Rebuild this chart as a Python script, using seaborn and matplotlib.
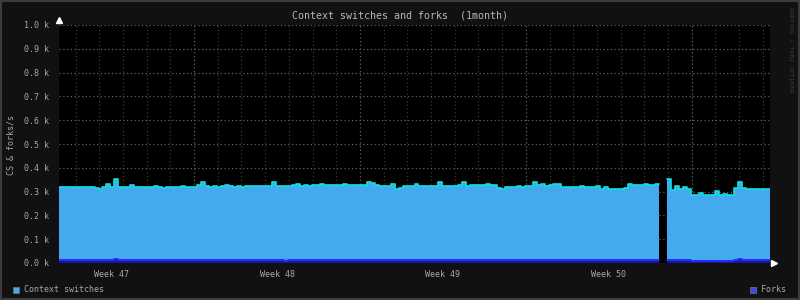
import numpy as np
import pandas as pd
import matplotlib
matplotlib.use("Agg")
import matplotlib.pyplot as plt
from matplotlib.patches import Rectangle
import seaborn as sns

# ---- data (k ops/s, 4-hour samples) ----
start_day = 1.3          # days after start of week 47
step_hours = 4
cs = [0.320, 0.321, 0.320, 0.319, 0.320, 0.318, 0.320, 0.319, 0.318, 0.314,
      0.312, 0.318, 0.334, 0.320, 0.352, 0.318, 0.320, 0.319, 0.329, 0.319,
      0.318, 0.320, 0.318, 0.321, 0.325, 0.318, 0.316, 0.320, 0.321, 0.319,
      0.320, 0.322, 0.320, 0.319, 0.321, 0.327, 0.340, 0.322, 0.321, 0.322,
      0.320, 0.322, 0.328, 0.322, 0.321, 0.322, 0.321, 0.322, 0.323, 0.322,
      0.323, 0.322, 0.323, 0.325, 0.340, 0.324, 0.323, 0.325, 0.324, 0.326,
      0.332, 0.325, 0.326, 0.325, 0.327, 0.326, 0.330, 0.327, 0.326, 0.328,
      0.327, 0.328, 0.333, 0.327, 0.326, 0.326, 0.326, 0.329, 0.340, 0.338,
      0.326, 0.325, 0.324, 0.323, 0.330, 0.313, 0.314, 0.322, 0.322, 0.324,
      0.334, 0.324, 0.324, 0.323, 0.322, 0.323, 0.340, 0.324, 0.325, 0.324,
      0.325, 0.328, 0.340, 0.325, 0.326, 0.328, 0.329, 0.329, 0.334, 0.328,
      0.326, 0.314, 0.313, 0.318, 0.321, 0.320, 0.322, 0.321, 0.322, 0.324,
      0.340, 0.328, 0.332, 0.325, 0.326, 0.333, 0.332, 0.320, 0.319, 0.320,
      0.320, 0.321, 0.324, 0.319, 0.318, 0.319, 0.323, 0.313, 0.321, 0.312,
      0.313, 0.312, 0.313, 0.315, 0.333, 0.327, 0.328, 0.327, 0.331, 0.328,
      0.329, 0.331, 0.330, np.nan, 0.352, 0.308, 0.322, 0.310, 0.318, 0.312,
      0.284, 0.284, 0.295, 0.284, 0.285, 0.285, 0.303, 0.286, 0.290, 0.285,
      0.285, 0.315, 0.340, 0.314, 0.312, 0.311, 0.310, 0.311, 0.310, 0.311]
forks = [0.012] * 14 + [0.016] + [0.012] * 42 + [0.009] + [0.012] * 95 + [np.nan] \
      + [0.012] * 6 + [0.008] * 11 + [0.012, 0.016] + [0.012] * 7

week_labels = ["Week 47", "Week 48", "Week 49", "Week 50"]
y_ticks = [0.0, 0.1, 0.2, 0.3, 0.4, 0.5, 0.6, 0.7, 0.8, 0.9, 1.0]
title = "Context switches and forks  (1month)"
y_label = "CS & forks/s"
legend_labels = ["Context switches", "Forks"]

# ---- build frame ----
n = len(cs)
x = start_day + np.arange(n + 1) * step_hours / 24.0
cs_ext = np.array(cs + [cs[-1]])
fk_ext = np.array(forks + [forks[-1]])
df = pd.DataFrame({"day": x, "cs": cs_ext, "forks": fk_ext})
valid = ~np.isnan(df["cs"].values)
df["seg"] = np.cumsum(~valid)

sns.set_style("dark")
plt.rcParams['font.family'] = ['DejaVu Sans Mono']

BG = "#111111"
TXT = "#a8a8a8"
CS_FILL = "#44aaee"
CS_LINE = "#11e0e0"
FK_FILL = "#1515a0"
FK_LINE = "#2a2aff"
GRID_MAJ = "#4e6e4e"
GRID_MIN = "#3a3a1c"

fig = plt.figure(figsize=(8, 3), dpi=100, facecolor=BG)
ax = fig.add_axes([59 / 800, 1 - 263 / 300, (770 - 59) / 800, (263 - 25) / 300])
ax.set_facecolor("black")

xlo, xhi = start_day, x[-1]
ax.set_xlim(xlo, xhi)
ax.set_ylim(0, 1.0)

# grid
for d in range(int(np.ceil(xlo)), int(np.floor(xhi)) + 1):
    major = d % 7 == 0
    ax.axvline(d, color=GRID_MAJ if major else GRID_MIN, lw=0.9,
               ls=(0, (1, 2)), zorder=1)
for v in y_ticks[1:]:
    ax.axhline(v, color=GRID_MAJ, lw=0.9, ls=(0, (1, 2)), zorder=1)

# areas
ax.fill_between(df["day"], 0, df["cs"], where=valid, step="post",
                color=CS_FILL, lw=0, zorder=2)
ax.fill_between(df["day"], 0, df["forks"], where=valid, step="post",
                color=FK_FILL, lw=0, zorder=3)
for s, part in df[valid].groupby("seg"):
    sns.lineplot(data=part, x="day", y="cs", ax=ax, color=CS_LINE, lw=1.2,
                 drawstyle="steps-post", estimator=None, zorder=4, legend=False)
    sns.lineplot(data=part, x="day", y="forks", ax=ax, color=FK_LINE, lw=1.4,
                 drawstyle="steps-post", estimator=None, zorder=4, legend=False)

# axes / ticks
ax.set_xlabel("")
ax.set_ylabel("")
for sp in ax.spines.values():
    sp.set_visible(False)
week_centres = [3.5 + 7 * i for i in range(len(week_labels))]
ax.set_xticks(week_centres, labels=week_labels)
ax.set_yticks(y_ticks, labels=[f"{v:.1f} k" for v in y_ticks])
ax.tick_params(axis="x", length=0, pad=5, labelsize=6, labelcolor=TXT)
ax.tick_params(axis="y", length=3, color=GRID_MAJ, pad=4, labelsize=6,
               labelcolor=TXT)
ax.axhline(0, color="#555555", lw=0.8, ls=(0, (1, 1)), zorder=5)

# arrows
ax.plot([xlo], [1.022], marker="^", color="white", ms=4, clip_on=False,
        zorder=6)
ax.plot([xhi + 0.17], [0.0], marker=">", color="white", ms=4, clip_on=False,
        zorder=6)

# texts
fig.text(0.5, 1 - 16 / 300, title, ha="center", va="center", fontsize=7.2,
         color="#b8b8b8")
fig.text(11 / 800, 1 - 145 / 300, y_label, rotation=90, ha="center",
         va="center", fontsize=6, color=TXT)
fig.text(791 / 800, 1 - 50 / 300, "RRDTOOL / TOBI OETIKER", rotation=270,
         ha="center", va="center", fontsize=4.6, color="#3c3c3c")

# legend
fig.patches.append(Rectangle((13 / 800, 1 - 293 / 300), 6 / 800, 6 / 300,
                             transform=fig.transFigure, facecolor=CS_FILL,
                             edgecolor="#777777", lw=0.5))
fig.text(24 / 800, 1 - 289.5 / 300, legend_labels[0], ha="left", va="center",
         fontsize=6, color=TXT)
fig.patches.append(Rectangle((750 / 800, 1 - 293 / 300), 6 / 800, 6 / 300,
                             transform=fig.transFigure, facecolor="#4444ee",
                             edgecolor="#777777", lw=0.5))
fig.text(761 / 800, 1 - 289.5 / 300, legend_labels[1], ha="left", va="center",
         fontsize=6, color=TXT)

# frame
fig.patches.append(Rectangle((0, 0), 1, 1, transform=fig.transFigure,
                             fill=False, edgecolor="#3c3c3c", lw=3))

fig.savefig("out.png", dpi=100, facecolor=BG)
